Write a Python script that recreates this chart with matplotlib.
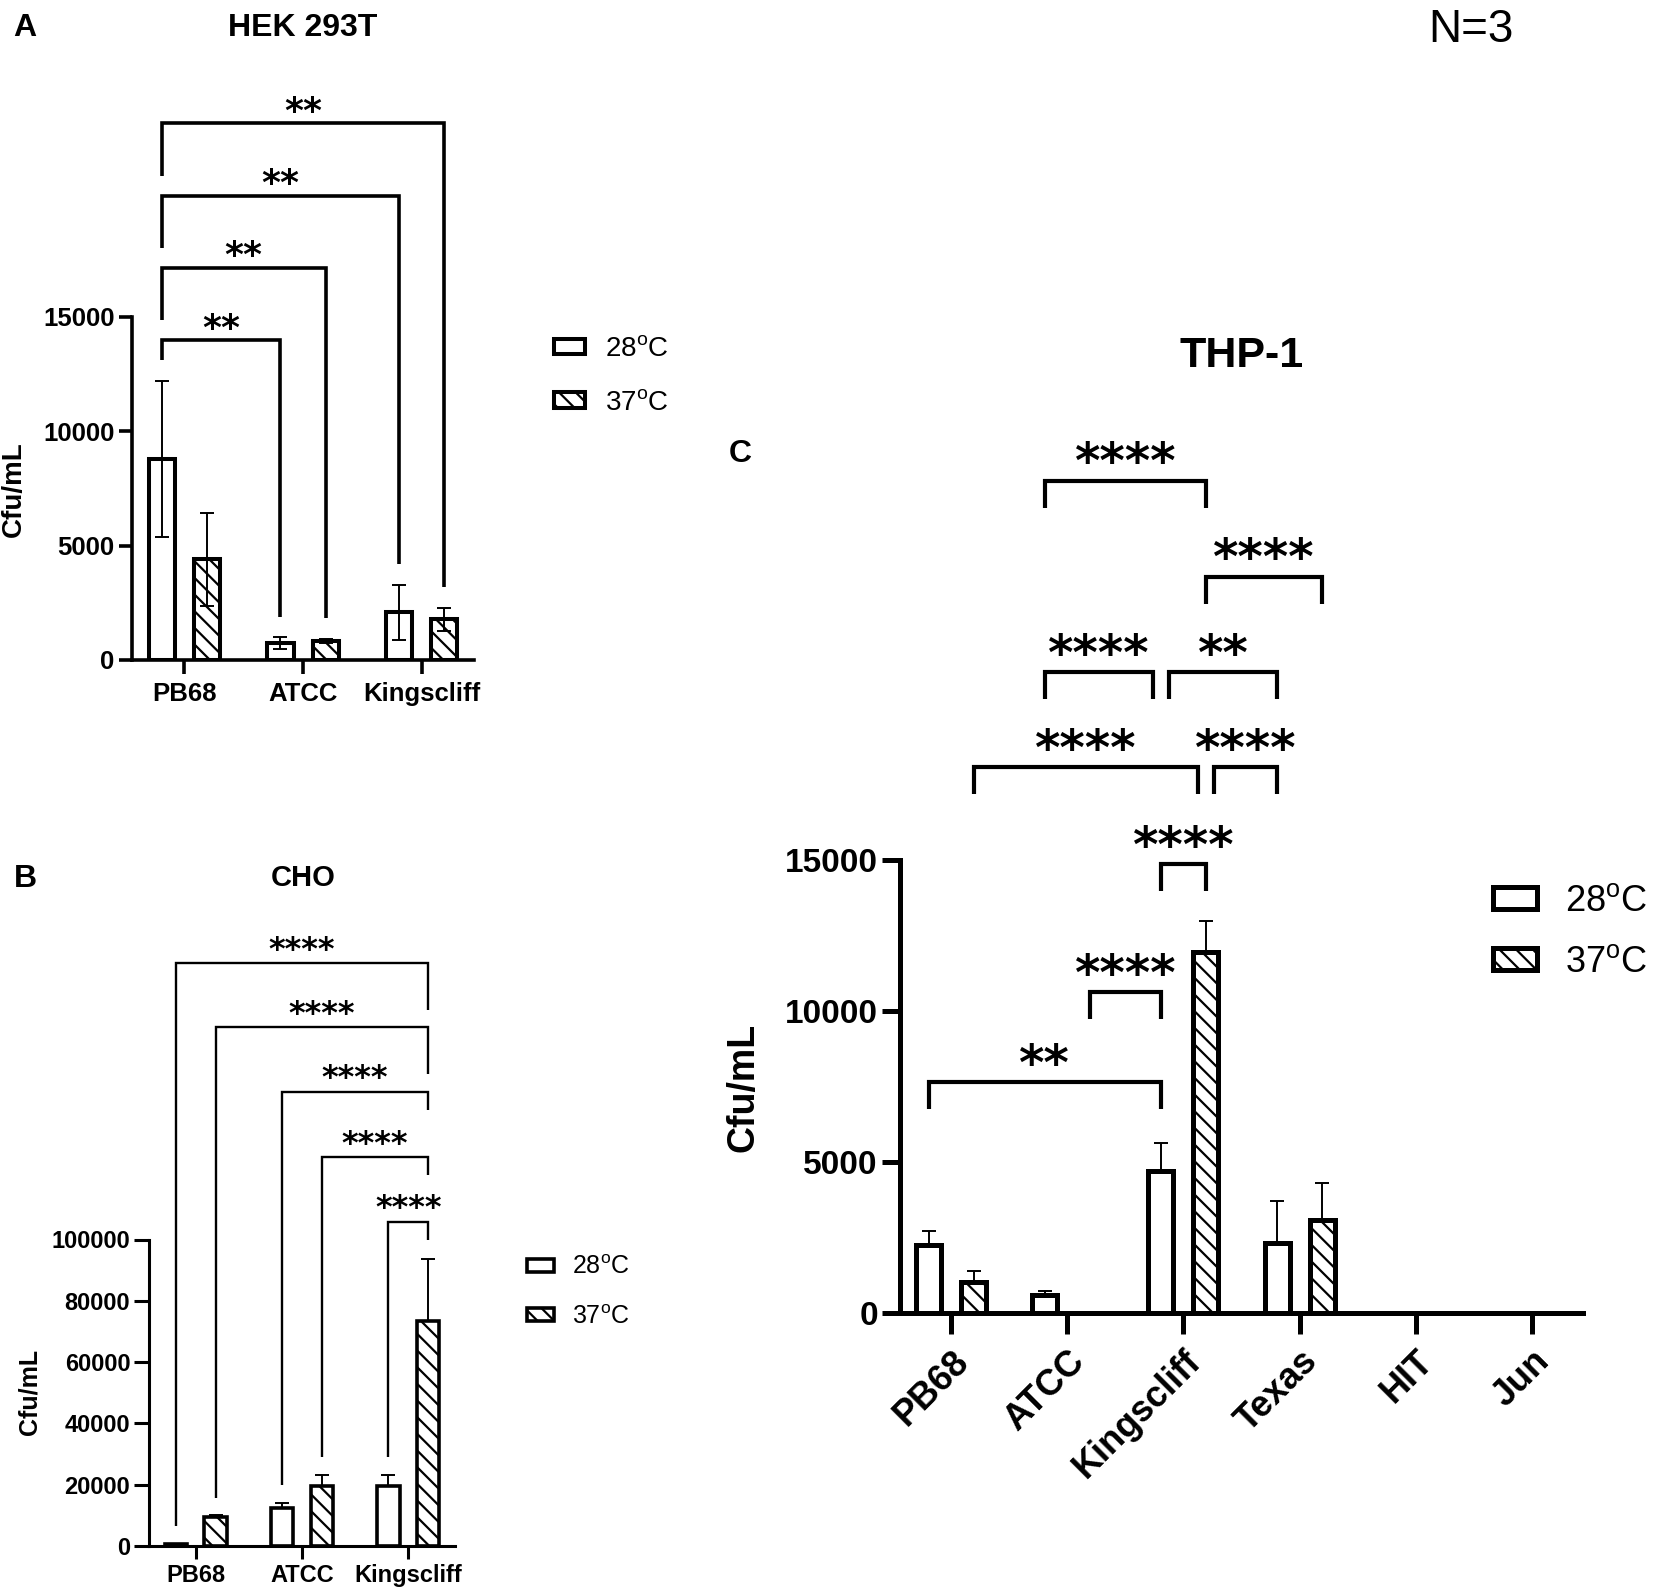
import numpy as np
import matplotlib
matplotlib.use('Agg')
import matplotlib.pyplot as plt
from matplotlib.patches import Patch

plt.rcParams['font.family'] = ['Liberation Sans', 'DejaVu Sans']
plt.rcParams['mathtext.default'] = 'regular'
plt.rcParams['hatch.linewidth'] = 1.6

W, H = 1654, 1592

# A: HEK 293T
hek_strains = ['PB68', 'ATCC', 'Kingscliff']
hek_28 = [8800, 740, 2090]
hek_28_sd = [3400, 250, 1200]
hek_37 = [4400, 840, 1790]
hek_37_sd = [2050, 100, 500]

# B: CHO
cho_strains = ['PB68', 'ATCC', 'Kingscliff']
cho_28 = [600, 12500, 19700]
cho_28_sd = [0, 1600, 3400]
cho_37 = [9300, 19700, 73500]
cho_37_sd = [800, 3400, 20200]

# C: THP-1
thp_strains = ['PB68', 'ATCC', 'Kingscliff', 'Texas', 'HIT', 'Jun']
thp_28 = [2270, 600, 4710, 2320, 0, 0]
thp_28_sd = [440, 150, 920, 1390, 0, 0]
thp_37 = [1040, 0, 11970, 3080, 0, 0]
thp_37_sd = [350, 0, 1030, 1240, 0, 0]

labels_temp = ['28$^{o}$C', '37$^{o}$C']

# comparisons: (group, series), (group, series), stars, bracket y, left leg end, right leg end
hek_tests = [
    ((0, 0), (1, 0), '**', 13980, 13100, 1890),
    ((0, 0), (1, 1), '**', 17150, 14860, 1850),
    ((0, 0), (2, 0), '**', 20300, 18000, 4200),
    ((0, 0), (2, 1), '**', 23470, 21160, 3190),
]
cho_tests = [
    ((0, 0), (2, 1), '****', 190200, 6400, 174900),
    ((0, 1), (2, 1), '****', 169200, 15600, 153900),
    ((1, 0), (2, 1), '****', 148200, 20000, 142300),
    ((1, 1), (2, 1), '****', 126800, 29200, 120900),
    ((2, 0), (2, 1), '****', 105800, 29200, 99900),
]
# C: legs are fixed length; last two values shorten the bracket ends
thp_tests = [
    ((1, 0), (2, 1), '****', 27570, 0, 0),
    ((2, 1), (3, 1), '****', 24390, 0, 0),
    ((1, 0), (2, 0), '****', 21240, 0, 1),
    ((2, 0), (3, 0), '**', 21240, 1, 0),
    ((0, 1), (2, 1), '****', 18090, 0, 1),
    ((2, 1), (3, 0), '****', 18090, 1, 0),
    ((2, 0), (2, 1), '****', 14880, 0, 0),
    ((1, 1), (2, 0), '****', 10640, 0, 0),
    ((0, 0), (2, 0), '**', 7660, 0, 0),
]


def px_axes(fig, left, top, right, bottom):
    return fig.add_axes([left / W, 1 - bottom / H, (right - left) / W, (bottom - top) / H])


def draw_bars(ax, strains, m28, s28, m37, s37, off, width, lw, both_err):
    x = np.arange(len(strains))
    ax.bar(x - off, m28, width, color='white', edgecolor='black', linewidth=lw, zorder=2)
    ax.bar(x + off, m37, width, color='white', edgecolor='black', linewidth=lw,
           hatch='\\\\', zorder=2)
    for xs, m, s in ((x - off, m28, s28), (x + off, m37, s37)):
        m = np.array(m, float)
        s = np.array(s, float)
        keep = s > 0
        low = s[keep] if both_err else np.zeros(keep.sum())
        ax.errorbar(xs[keep], m[keep], yerr=[low, s[keep]], fmt='none', ecolor='black',
                    elinewidth=1.4, capsize=5, capthick=1.4, zorder=3)
    ax.set_xlim(-0.44, len(strains) - 0.56)
    ax.set_xticks(x)
    for side in ('top', 'right'):
        ax.spines[side].set_visible(False)


def style_axes(ax, lw, ylen, xlen, fs_y, fs_x, xpad=3):
    for side in ('left', 'bottom'):
        ax.spines[side].set_linewidth(lw)
    ax.tick_params(axis='y', width=lw, length=ylen, labelsize=fs_y, pad=3)
    ax.tick_params(axis='x', width=lw, length=xlen, labelsize=fs_x, pad=xpad)
    for t in ax.get_yticklabels() + ax.get_xticklabels():
        t.set_fontweight('bold')


def brackets(ax, tests, off, lw, fs, dy, fixed_leg=None, shrink=0.07):
    for a, b, stars, y, e1, e2 in tests:
        x1 = a[0] + (off if a[1] else -off)
        x2 = b[0] + (off if b[1] else -off)
        if fixed_leg is not None:
            x1 += shrink * e1
            x2 -= shrink * e2
            e1 = e2 = y - fixed_leg
        ax.plot([x1, x1, x2, x2], [e1, y, y, e2], color='black', lw=lw,
                solid_capstyle='butt', solid_joinstyle='miter', clip_on=False, zorder=4)
        ax.annotate(stars, xy=((x1 + x2) / 2, y + dy), xytext=(0, -0.57 * fs),
                    textcoords='offset points', ha='center', va='baseline',
                    fontsize=fs, fontweight='bold', family='DejaVu Sans',
                    annotation_clip=False)


def legend(ax, x, y, fs, hl, hh, pad, spacing, lw):
    handles = [Patch(facecolor='white', edgecolor='black', linewidth=lw),
               Patch(facecolor='white', edgecolor='black', linewidth=lw, hatch='\\\\')]
    ax.legend(handles, labels_temp, loc='center left', bbox_to_anchor=(x / W, 1 - y / H),
              bbox_transform=ax.figure.transFigure, frameon=False, borderpad=0,
              borderaxespad=0, fontsize=fs, handlelength=hl, handleheight=hh,
              handletextpad=pad, labelspacing=spacing)


fig = plt.figure(figsize=(W / 100, H / 100), dpi=100)

# panel A
ax_a = px_axes(fig, 132, 317, 474, 660)
draw_bars(ax_a, hek_strains, hek_28, hek_28_sd, hek_37, hek_37_sd, 0.19, 0.22, 2.9, True)
ax_a.set_ylim(0, 15000)
ax_a.set_yticks([0, 5000, 10000, 15000])
ax_a.set_xticklabels(hek_strains)
style_axes(ax_a, 2.6, 9.5, 10, 18.5, 18.5, xpad=6)
brackets(ax_a, hek_tests, 0.19, 2.6, 26, 970)
legend(ax_a, 554, 376, 20, 1.1, 0.47, 0.72, 0.99, 2.9)
fig.text(25 / W, 1 - 28.5 / H, 'A', fontsize=23, fontweight='bold', ha='center', va='center')
fig.text(303 / W, 1 - 28.5 / H, 'HEK 293T', fontsize=23, fontweight='bold', ha='center', va='center')
fig.text(14 / W, 1 - 489 / H, 'Cfu/mL', fontsize=20, fontweight='bold', rotation=90,
         ha='center', va='center')

# panel B
ax_b = px_axes(fig, 149, 1239.5, 455, 1546)
draw_bars(ax_b, cho_strains, cho_28, cho_28_sd, cho_37, cho_37_sd, 0.186, 0.21, 2.6, False)
ax_b.set_ylim(0, 100000)
ax_b.set_yticks(np.arange(0, 100001, 20000))
ax_b.set_xticklabels(cho_strains)
style_axes(ax_b, 2.2, 10.5, 9, 17, 17, xpad=4)
brackets(ax_b, cho_tests, 0.186, 1.7, 23, 7400)
legend(ax_b, 527, 1292, 18, 1.08, 0.44, 0.72, 1.0, 2.6)
fig.text(25 / W, 1 - 879 / H, 'B', fontsize=23, fontweight='bold', ha='center', va='center')
fig.text(303 / W, 1 - 878 / H, 'CHO', fontsize=21, fontweight='bold', ha='center', va='center')
fig.text(29 / W, 1 - 1392 / H, 'Cfu/mL', fontsize=18, fontweight='bold', rotation=90,
         ha='center', va='center')

# panel C
ax_c = px_axes(fig, 900, 860.4, 1583, 1313.3)
draw_bars(ax_c, thp_strains, thp_28, thp_28_sd, thp_37, thp_37_sd, 0.194, 0.215, 3.6, False)
ax_c.set_ylim(0, 15000)
ax_c.set_yticks([0, 5000, 10000, 15000])
ax_c.set_xticklabels(thp_strains, rotation=45, ha='right', rotation_mode='anchor')
style_axes(ax_c, 3.6, 13, 15, 24, 26, xpad=7)
brackets(ax_c, thp_tests, 0.194, 3.0, 35, 1000, fixed_leg=900)
legend(ax_c, 1493, 932, 26, 1.22, 0.56, 0.78, 0.72, 3.6)
fig.text(740 / W, 1 - 454 / H, 'C', fontsize=23, fontweight='bold', ha='center', va='center')
fig.text(1242 / W, 1 - 356 / H, 'THP-1', fontsize=31, fontweight='bold', ha='center', va='center')
fig.text(744 / W, 1 - 1087 / H, 'Cfu/mL', fontsize=27, fontweight='bold', rotation=90,
         ha='center', va='center')

fig.text(1471 / W, 1 - 30 / H, 'N=3', fontsize=33, ha='center', va='center')

fig.savefig('out.png', dpi=100)
